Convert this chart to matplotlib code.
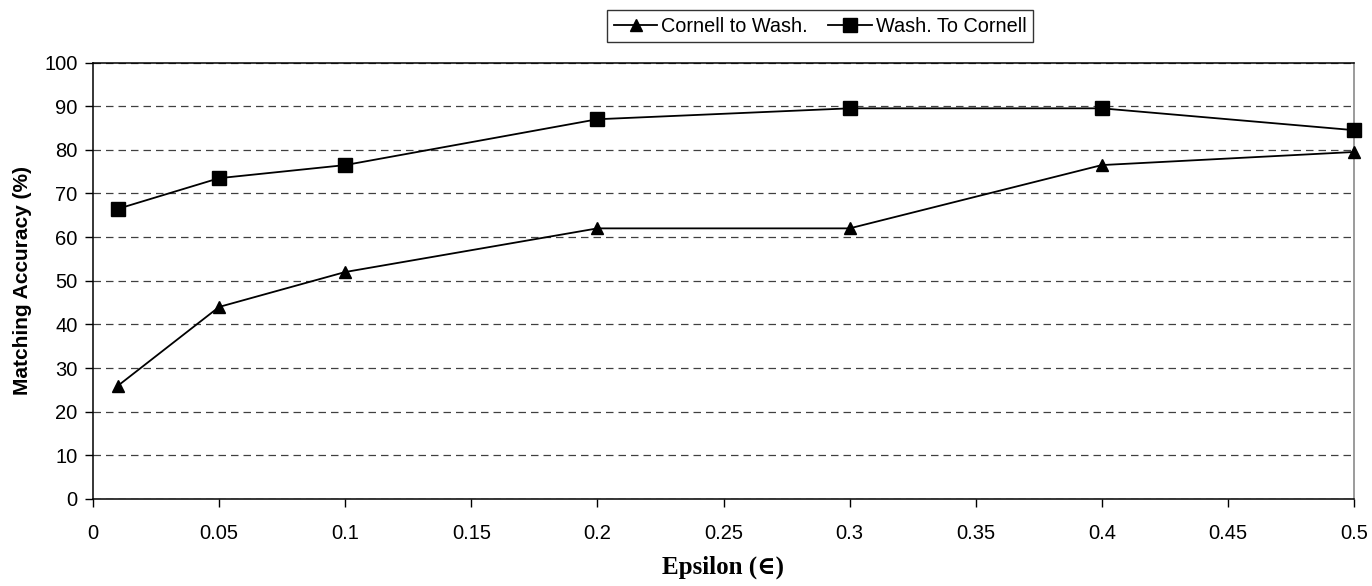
import matplotlib as mpl
mpl.use('Agg')
import matplotlib.pyplot as plt

# values
epsilon = [0.01, 0.05, 0.1, 0.2, 0.3, 0.4, 0.5]
cornell_to_wash = [26, 44, 52, 62, 62, 76.5, 79.5]
wash_to_cornell = [66.5, 73.5, 76.5, 87, 89.5, 89.5, 84.5]
yticks = list(range(0, 101, 10))
xticks = [0, 0.05, 0.1, 0.15, 0.2, 0.25, 0.3, 0.35, 0.4, 0.45, 0.5]
xticklabels = ['0', '0.05', '0.1', '0.15', '0.2', '0.25', '0.3', '0.35', '0.4', '0.45', '0.5']

plt.rcParams['font.family'] = ['Liberation Sans', 'DejaVu Sans']

fig = plt.figure(figsize=(13.72, 5.86), dpi=100)
ax = fig.add_axes([93/1372, 1-499/586, (1354-93)/1372, (499-62.5)/586])

ax.plot(epsilon, cornell_to_wash, color='black', lw=1.3, marker='^',
        ms=8.5, label='Cornell to Wash.', clip_on=False, zorder=3)
ax.plot(epsilon, wash_to_cornell, color='black', lw=1.3, marker='s',
        ms=9.5, label='Wash. To Cornell', clip_on=False, zorder=3)

ax.set_xlim(0, 0.5)
ax.set_ylim(0, 100)
ax.set_yticks(yticks)
ax.set_xticks(xticks)
ax.set_xticklabels(xticklabels)
ax.yaxis.grid(True, linestyle=(0, (6, 4)), color='#404040', lw=0.9)
ax.set_axisbelow(True)

ax.tick_params(axis='both', direction='out', length=6, width=1,
               labelsize=14.5, colors='black')
ax.tick_params(axis='y', pad=5)
ax.tick_params(axis='x', pad=12)
for s in ['left', 'bottom', 'top']:
    ax.spines[s].set_color('black')
ax.spines['right'].set_color('#808080')
for s in ax.spines.values():
    s.set_linewidth(1.1)

ax.set_ylabel('Matching Accuracy (%)', fontsize=15, fontweight='bold', labelpad=9)
ax.set_xlabel('Epsilon (\u2208)', fontsize=18, fontweight='bold',
              family=['Liberation Serif', 'DejaVu Serif'], labelpad=9)

leg = fig.legend(loc='center', bbox_to_anchor=(820/1372, 1-26/586), ncol=2,
                 fontsize=14.3, frameon=True, fancybox=False, edgecolor='black',
                 handlelength=2.2, columnspacing=1.0, handletextpad=0.2,
                 borderpad=0.35)
leg.get_frame().set_linewidth(1.0)

fig.savefig('out.png', dpi=100)
